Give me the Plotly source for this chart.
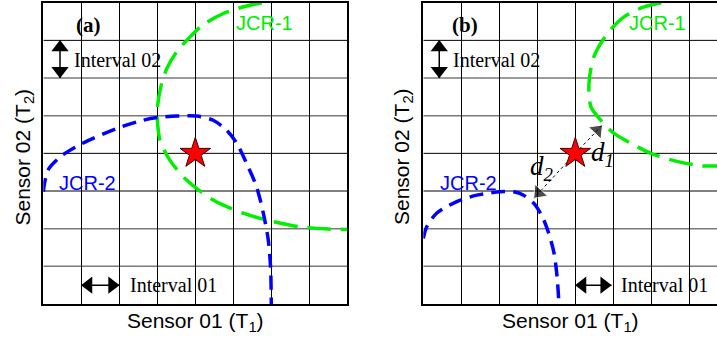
import math
import plotly.graph_objects as go

# Grid layout (cells along each sensor axis)
N_CELLS = 8
ROWS_DARK = [3, 4, 7]
ROWS_GRAY = [1, 2, 5, 6]

# Panel (a): overlapping joint confidence regions
jcr1_a_x = [5.75, 5.3, 4.75, 4.2, 3.85, 3.5, 3.25, 3.1, 3.0, 3.0, 3.07, 3.33, 3.77, 4.47, 5.26, 5.88, 6.75, 7.5, 8.0]
jcr1_a_y = [8.0, 7.9, 7.72, 7.41, 7.08, 6.68, 6.25, 5.8, 5.2, 4.9, 4.35, 3.82, 3.29, 2.76, 2.41, 2.23, 2.05, 1.99, 1.98]
jcr2_a_x = [0.0, 0.05, 0.15, 0.5, 1.0, 1.93, 2.63, 3.0, 3.51, 4.04, 4.47, 4.82, 5.09, 5.35, 5.61, 5.79, 5.92, 5.98, 6.0]
jcr2_a_y = [2.98, 3.3, 3.6, 3.95, 4.25, 4.66, 4.88, 4.95, 4.99, 4.99, 4.88, 4.62, 4.27, 3.73, 3.12, 2.41, 1.70, 0.99, 0.0]
star_a = (4.0, 4.0)

# Panel (b): separated joint confidence regions
jcr1_b_x = [6.26, 5.81, 5.29, 4.85, 4.49, 4.36, 4.41, 4.67, 5.02, 5.46, 5.99, 6.70, 7.31, 7.80, 8.0]
jcr1_b_y = [8.0, 7.89, 7.63, 7.19, 6.57, 5.86, 5.24, 4.88, 4.53, 4.27, 4.0, 3.78, 3.67, 3.66, 3.65]
jcr2_b_x = [0.0, 0.09, 0.35, 0.88, 1.41, 2.03, 2.38, 2.64, 2.91, 3.13, 3.30, 3.44, 3.52, 3.57]
jcr2_b_y = [1.74, 2.05, 2.41, 2.72, 2.89, 2.98, 2.98, 2.89, 2.67, 2.32, 1.88, 1.35, 0.73, 0.0]
star_b = (4.0, 4.0)
d1_end = (4.71, 4.75)
d2_end = (2.91, 2.81)

# one-cell interval markers: (x0, y0, x1, y1)
interval02_a = (0.44, 6.0, 0.44, 7.0)
interval01_a = (1.0, 0.5, 2.0, 0.5)
interval02_b = (0.42, 6.0, 0.42, 7.0)
interval01_b = (4.0, 0.5, 4.95, 0.5)

X_TITLE = "Sensor 01 (T<sub>1</sub>)"
Y_TITLE = "Sensor 02 (T<sub>2</sub>)"

W, H = 717, 339
SANS = "Liberation Sans, Arial, sans-serif"
SERIF = "Liberation Serif, Times New Roman, serif"
GREEN = "#00ee00"
BLUE = "#0000ff"

# pixel geometry of the two panels
A_LEFT, A_RIGHT = 43.3, 347.3
B_LEFT = 423.3
TOP, BOTTOM = 2.7, 304.0
cell_px = (A_RIGHT - A_LEFT) / N_CELLS
b_xmax = (W - B_LEFT) / cell_px

fig = go.Figure()

def curve(x, y, color, dash, width, xa, ya):
    fig.add_trace(go.Scatter(x=x, y=y, mode="lines", xaxis=xa, yaxis=ya,
                             line=dict(color=color, width=width, dash=dash, shape="spline", smoothing=0.8),
                             hoverinfo="skip", showlegend=False))

def star(pt, xa, ya):
    fig.add_trace(go.Scatter(x=[pt[0]], y=[pt[1]], mode="markers", xaxis=xa, yaxis=ya,
                             marker=dict(symbol="star", size=23, color="#ff0000",
                                         line=dict(color="#400000", width=1)),
                             hoverinfo="skip", showlegend=False))

HEAD = 15  # arrowhead marker size in px
HEAD_OFF = 0.19  # head centre offset from the tip, in cells

def double_arrow(seg, xa, ya):
    x0, y0, x1, y1 = seg
    if x0 == x1:
        syms = ["triangle-down", "triangle-up"]
        px = [x0, x1]
        py = [y0 + HEAD_OFF, y1 - HEAD_OFF]
    else:
        syms = ["triangle-left", "triangle-right"]
        px = [x0 + HEAD_OFF, x1 - HEAD_OFF]
        py = [y0, y1]
    fig.add_trace(go.Scatter(x=[x0, x1], y=[y0, y1], mode="lines", xaxis=xa, yaxis=ya,
                             line=dict(color="black", width=1.5), hoverinfo="skip", showlegend=False))
    fig.add_trace(go.Scatter(x=px, y=py, mode="markers", xaxis=xa, yaxis=ya,
                             marker=dict(symbol=syms, size=HEAD, color="black"),
                             hoverinfo="skip", showlegend=False))

def distance_arrow(start, end, xa, ya):
    fig.add_trace(go.Scatter(x=[start[0], end[0]], y=[start[1], end[1]], mode="lines",
                             xaxis=xa, yaxis=ya, line=dict(color="black", width=1, dash="dot"),
                             hoverinfo="skip", showlegend=False))
    dx, dy = end[0] - start[0], end[1] - start[1]
    L = math.hypot(dx, dy)
    hx = end[0] - dx / L * HEAD_OFF
    hy = end[1] - dy / L * HEAD_OFF
    fig.add_trace(go.Scatter(x=[start[0], hx], y=[start[1], hy], mode="markers",
                             xaxis=xa, yaxis=ya,
                             marker=dict(symbol=["circle", "triangle-up"], size=[0, HEAD], color="black",
                                         angleref="previous"),
                             hoverinfo="skip", showlegend=False))

curve(jcr1_a_x, jcr1_a_y, GREEN, "24px,10px", 3.5, "x", "y")
curve(jcr2_a_x, jcr2_a_y, BLUE, "14px,8px", 3.5, "x", "y")
star(star_a, "x", "y")
double_arrow(interval02_a, "x", "y")
double_arrow(interval01_a, "x", "y")

distance_arrow(star_b, d1_end, "x2", "y2")
distance_arrow(star_b, d2_end, "x2", "y2")
curve(jcr1_b_x, jcr1_b_y, GREEN, "24px,10px", 3.5, "x2", "y2")
curve(jcr2_b_x, jcr2_b_y, BLUE, "14px,8px", 3.5, "x2", "y2")
star(star_b, "x2", "y2")
double_arrow(interval02_b, "x2", "y2")
double_arrow(interval01_b, "x2", "y2")

# horizontal grid rows
shapes = []
for xr, yr, xmax in (("x", "y", N_CELLS), ("x2", "y2", b_xmax)):
    for r in ROWS_GRAY:
        shapes.append(dict(type="line", xref=xr, yref=yr, x0=0, x1=xmax, y0=r, y1=r,
                           line=dict(color="#7a7a7a", width=1.5), layer="below"))
    for r in ROWS_DARK:
        shapes.append(dict(type="line", xref=xr, yref=yr, x0=0, x1=xmax, y0=r, y1=r,
                           line=dict(color="black", width=1), layer="below"))

ann = []

def text(x, y, s, xr, yr, font, size, color="black", xanchor="left"):
    ann.append(dict(x=x, y=y, xref=xr, yref=yr, text=s, showarrow=False, xanchor=xanchor,
                    yanchor="middle", font=dict(family=font, size=size, color=color)))

# panel (a) labels
text(1.19, 7.42, "<b>(a)</b>", "x", "y", SERIF, 21, xanchor="center")
text(0.76, 6.48, "Interval 02", "x", "y", SERIF, 20)
text(2.22, 0.5, "Interval 01", "x", "y", SERIF, 20)
text(5.02, 7.45, "JCR-1", "x", "y", SANS, 20, GREEN)
text(0.37, 3.2, "JCR-2", "x", "y", SANS, 20, BLUE)

# panel (b) labels
text(1.1, 7.42, "<b>(b)</b>", "x2", "y2", SERIF, 21, xanchor="center")
text(0.72, 6.48, "Interval 02", "x2", "y2", SERIF, 20)
text(5.16, 0.5, "Interval 01", "x2", "y2", SERIF, 20)
text(5.35, 7.45, "JCR-1", "x2", "y2", SANS, 20, GREEN)
text(0.38, 3.2, "JCR-2", "x2", "y2", SANS, 20, BLUE)
text(4.36, 3.98, "<i>d</i><sub><i>1</i></sub>", "x2", "y2", SERIF, 27)
text(3.13, 3.62, "<i>d</i><sub><i>2</i></sub>", "x2", "y2", SERIF, 27, xanchor="center")

# axis titles
for cx in ((A_LEFT + A_RIGHT) / 2, 570.0):
    ann.append(dict(x=cx / W, y=1 - 322 / H, xref="paper", yref="paper", text=X_TITLE,
                    showarrow=False, xanchor="center", yanchor="middle",
                    font=dict(family=SANS, size=21, color="black")))
for cx in (23.5, 403.0):
    ann.append(dict(x=cx / W, y=1 - 157 / H, xref="paper", yref="paper", text=Y_TITLE,
                    showarrow=False, xanchor="center", yanchor="middle", textangle=-90,
                    font=dict(family=SANS, size=21, color="black")))

ydom = [1 - BOTTOM / H, 1 - TOP / H]
common_x = dict(showgrid=True, dtick=1, tick0=0, gridcolor="black", gridwidth=1,
                showticklabels=False, ticks="", zeroline=False, showline=True,
                linecolor="black", linewidth=1.5, mirror=True, fixedrange=True)
common_y = dict(showgrid=False, showticklabels=False, ticks="", zeroline=False,
                showline=True, linecolor="black", linewidth=1.5, range=[0, N_CELLS],
                domain=ydom, fixedrange=True)

fig.update_layout(
    width=W, height=H, margin=dict(l=0, r=0, t=0, b=0),
    paper_bgcolor="white", plot_bgcolor="white",
    xaxis=dict(common_x, domain=[A_LEFT / W, A_RIGHT / W], range=[0, N_CELLS], anchor="y"),
    yaxis=dict(common_y, anchor="x", mirror=True),
    xaxis2=dict(common_x, domain=[B_LEFT / W, 1.0], range=[0, b_xmax], anchor="y2"),
    yaxis2=dict(common_y, anchor="x2", mirror=False),
    shapes=shapes, annotations=ann,
)

fig.write_html("out.html")
